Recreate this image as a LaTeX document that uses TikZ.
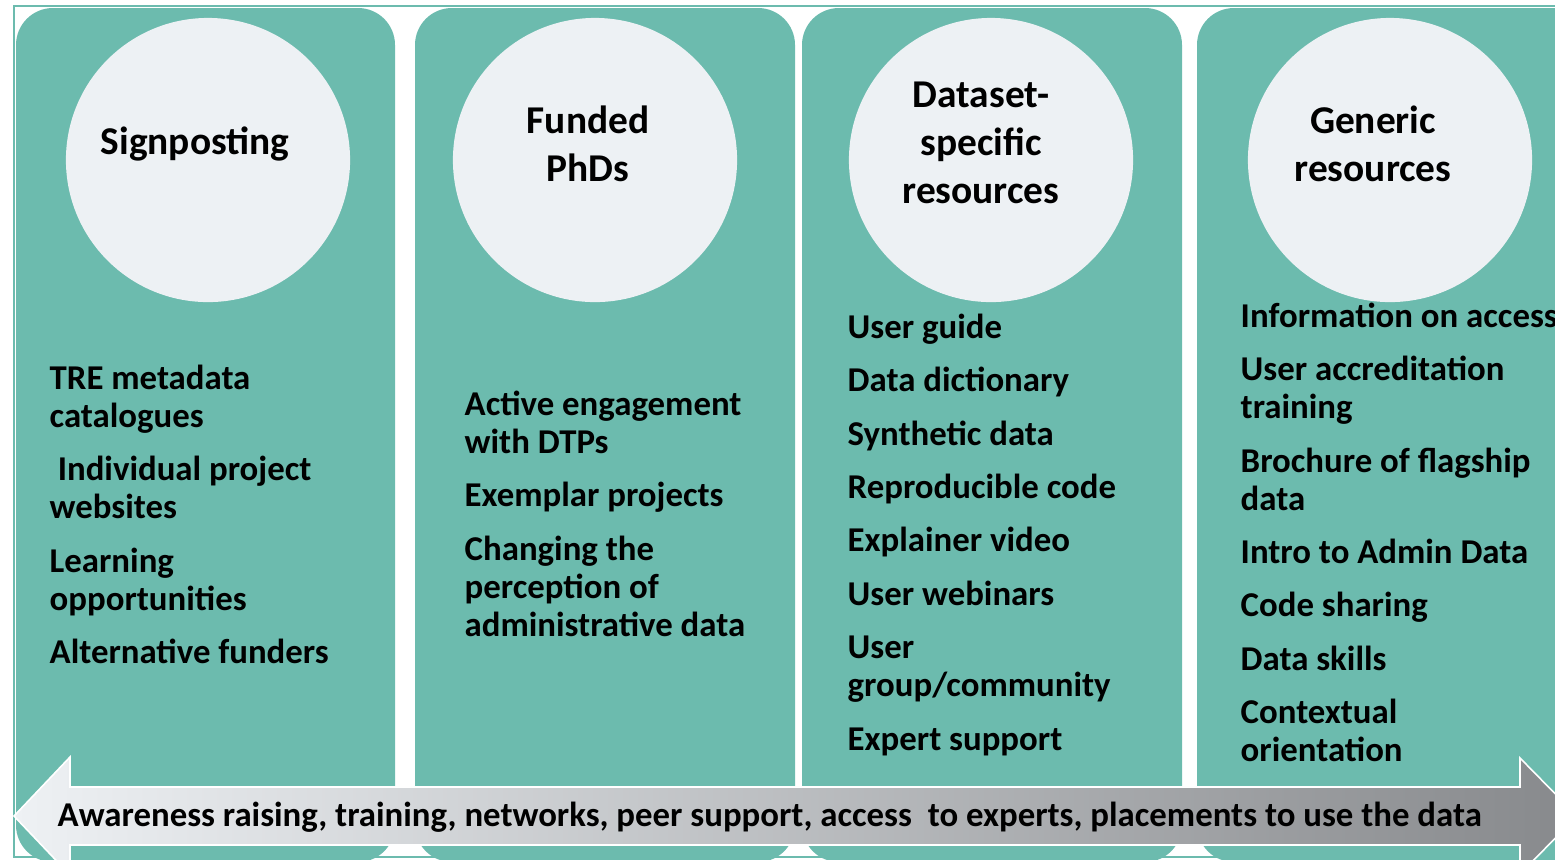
\documentclass[tikz,border=0pt]{standalone}
\usepackage{fontspec}
\setmainfont{Carlito}
\usepackage{tikz}
\definecolor{bandgreen}{HTML}{6CBBAE}
\definecolor{discgrey}{HTML}{EDF1F4}
\definecolor{arrowlight}{HTML}{EEF1F4}
\definecolor{arrowmid}{HTML}{CDD1D5}
\definecolor{arrowdark}{HTML}{87898C}

\begin{document}
\begin{tikzpicture}[x=0.01cm,y=-0.01cm,
  band/.style={fill=bandgreen,rounded corners=10.5pt},
  disc/.style={circle,fill=discgrey,inner sep=0,minimum size=2.84cm},
  title/.style={align=center,font=\bfseries\fontsize{11.2pt}{13.6pt}\selectfont},
  items/.style={anchor=north west,inner sep=0,align=left,font=\bfseries\fontsize{9.9pt}{10.8pt}\selectfont}]
\useasboundingbox (0,0) rectangle (1555,859);
\clip (0,0) rectangle (1555,859);

\fill[band] (16,8) rectangle (395,862);
\fill[band] (415,8) rectangle (795,862);
\fill[band] (802,8) rectangle (1182,862);
\fill[band] (1197,8) rectangle (1600,862);
\draw[bandgreen,line width=0.45pt] (14,6) rectangle (1620,857);

\node[disc] (c1) at (208,160) {};
\node[disc] (c2) at (595,160) {};
\node[disc] (c3) at (991,160) {};
\node[disc] (c4) at (1390,160) {};

\node[title] (t1) at (195,144) {Signposting};
\node[title] (t2) at (588,144) {Funded\\PhDs};
\node[title] (t3) at (981,143) {Dataset-\\specific\\resources};
\node[title] (t4) at (1373,144) {Generic\\resources};

\node[items] (l1) at (49,364) {TRE metadata\\catalogues\\[4.4pt]
  \hspace*{2.3pt}Individual project\\websites\\[4.4pt]
  Learning\\opportunities\\[4.4pt]
  Alternative funders};
\node[items] (l2) at (464,390) {Active engagement\\with DTPs\\[4.4pt]
  Exemplar projects\\[4.4pt]
  Changing the\\perception of\\administrative data};
\node[items] (l3) at (847,313) {User guide\\[4.4pt]
  Data dictionary\\[4.4pt]
  Synthetic data\\[4.4pt]
  Reproducible code\\[4.4pt]
  Explainer video\\[4.4pt]
  User webinars\\[4.4pt]
  User\\group/community\\[4.4pt]
  Expert support};
\node[items] (l4) at (1240,302) {Information on access\\[4.4pt]
  User accreditation\\training\\[4.4pt]
  Brochure of flagship\\data\\[4.4pt]
  Intro to Admin Data\\[4.4pt]
  Code sharing\\[4.4pt]
  Data skills\\[4.4pt]
  Contextual\\orientation};

\shade[left color=arrowlight,middle color=arrowmid,right color=arrowdark,draw=white,line width=0.45pt]
  (14,816) -- (70,757) -- (70,787) -- (1520,787) -- (1520,758) -- (1577,816)
  -- (1520,874) -- (1520,845) -- (70,845) -- (70,875) -- cycle;
\node[anchor=west,inner sep=0,font=\bfseries\fontsize{9.9pt}{12pt}\selectfont] (aw) at (57,817)
  {Awareness raising, training, networks, peer support, access \ to experts, placements to use the data};
\end{tikzpicture}
\end{document}
